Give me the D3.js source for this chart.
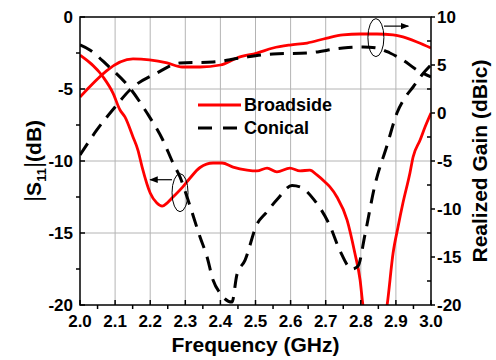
<!DOCTYPE html>
<html>
<head>
<meta charset="utf-8">
<script src="https://cdn.jsdelivr.net/npm/d3@7"></script>
<style>
  body { margin: 0; background: #fff; }
  svg text { font-family: Arial, "Liberation Sans", sans-serif; font-weight: bold; }
</style>
</head>
<body>
<svg id="chart" width="496" height="360"></svg>
<script>

// frequency (GHz) / value pairs
var s11BroadF = [2.0, 2.066, 2.094, 2.114, 2.128, 2.151, 2.165, 2.177, 2.2, 2.219, 2.234, 2.248, 2.265, 2.293, 2.313, 2.342, 2.379, 2.405, 2.436, 2.476, 2.504, 2.533, 2.561, 2.598, 2.627, 2.655, 2.675, 2.698, 2.712, 2.732, 2.761, 2.783, 2.798, 2.806, 2.84, 2.875, 2.892, 2.906, 2.92, 2.94, 2.949, 2.969, 2.983, 3.0];
var s11BroadV = [-2.64, -4.17, -5.28, -6.46, -6.94, -8.33, -9.24, -10.42, -12.22, -12.92, -13.13, -12.92, -12.5, -11.8, -11.2, -10.45, -10.14, -10.14, -10.42, -10.63, -10.69, -10.49, -10.76, -10.49, -10.69, -10.63, -10.97, -11.46, -11.8, -12.5, -14.1, -16.39, -18.26, -20, -23, -20, -16.39, -14.58, -12.92, -10.83, -9.72, -8.54, -7.64, -6.67];

var s11ConF = [2.0, 2.028, 2.077, 2.142, 2.191, 2.236, 2.265, 2.285, 2.305, 2.342, 2.362, 2.379, 2.399, 2.433, 2.447, 2.47, 2.504, 2.53, 2.564, 2.604, 2.627, 2.667, 2.712, 2.74, 2.775, 2.792, 2.812, 2.84, 2.875, 2.903, 2.926, 2.949, 2.974, 3.0];
var s11ConV = [-1.94, -2.29, -3.33, -4.93, -6.67, -8.54, -10.14, -11.11, -12.5, -15.28, -16.67, -18.26, -19.17, -19.8, -17.9, -16.9, -14.4, -13.6, -12.6, -11.7, -11.8, -12.7, -14.5, -16.2, -17.5, -17.3, -15.1, -11.7, -8.9, -6.67, -5.6, -4.86, -4.03, -3.33];

var gainBroadF = [2.0, 2.151, 2.248, 2.291, 2.342, 2.4, 2.447, 2.504, 2.55, 2.598, 2.647, 2.704, 2.749, 2.798, 2.846, 2.892, 2.92, 2.96, 3.0];
var gainBroadV = [1.67, 5.63, 5.21, 4.79, 4.79, 5.0, 5.73, 6.25, 6.77, 7.08, 7.29, 7.81, 8.13, 8.23, 8.23, 8.13, 7.92, 7.4, 6.77];

var gainConF = [2.0, 2.048, 2.1, 2.142, 2.219, 2.285, 2.379, 2.456, 2.55, 2.647, 2.749, 2.806, 2.846, 2.883, 2.92, 2.96, 3.0];
var gainConV = [-4.38, -1.77, 0.63, 2.4, 4.17, 5.21, 5.31, 5.73, 6.15, 6.25, 6.77, 6.88, 6.77, 6.25, 5.52, 4.48, 3.75];

var xTicks = [2.0, 2.1, 2.2, 2.3, 2.4, 2.5, 2.6, 2.7, 2.8, 2.9, 3.0];
var leftTicks = [0, -5, -10, -15, -20];
var rightTicks = [10, 5, 0, -5, -10, -15, -20];
var legendNames = ["Broadside", "Conical"];

var svg = d3.select("#chart"),
    margin = {top: 17, right: 65, bottom: 55, left: 80},
    width = 496 - margin.left - margin.right,
    height = 360 - margin.top - margin.bottom,
    g = svg.append("g").attr("transform", "translate(" + margin.left + "," + margin.top + ")");

var x = d3.scaleLinear().domain([2.0, 3.0]).range([0, width]);
var yL = d3.scaleLinear().domain([-20, 0]).range([height, 0]);
var yR = d3.scaleLinear().domain([-20, 10]).range([height, 0]);

function pairs(f, v) { return f.map(function(d, i) { return [d, v[i]]; }); }

// grid
g.append("g").selectAll("line").data(xTicks.slice(1, -1)).enter().append("line")
    .attr("x1", function(d) { return x(d); }).attr("x2", function(d) { return x(d); })
    .attr("y1", 0).attr("y2", height)
    .attr("stroke", "#b4b4b4").attr("stroke-width", 1);
g.append("g").selectAll("line").data(leftTicks.slice(1, -1)).enter().append("line")
    .attr("y1", function(d) { return yL(d); }).attr("y2", function(d) { return yL(d); })
    .attr("x1", 0).attr("x2", width)
    .attr("stroke", "#b4b4b4").attr("stroke-width", 1);

svg.append("clipPath").attr("id", "clip")
  .append("rect").attr("width", width).attr("height", height);

var lineL = d3.line().curve(d3.curveMonotoneX)
    .x(function(d) { return x(d[0]); }).y(function(d) { return yL(d[1]); });
var lineR = d3.line().curve(d3.curveMonotoneX)
    .x(function(d) { return x(d[0]); }).y(function(d) { return yR(d[1]); });

var plot = g.append("g").attr("clip-path", "url(#clip)");

function curve(data, gen, color, dash) {
  plot.append("path")
      .datum(data)
      .attr("fill", "none")
      .attr("stroke", color)
      .attr("stroke-width", dash ? 3 : 2.8)
      .attr("stroke-dasharray", dash ? "14,9" : null)
      .attr("stroke-linejoin", "round")
      .attr("d", gen);
}

curve(pairs(gainBroadF, gainBroadV), lineR, "#ff0000", false);
curve(pairs(s11BroadF, s11BroadV), lineL, "#ff0000", false);
curve(pairs(gainConF, gainConV), lineR, "#000", true);
curve(pairs(s11ConF, s11ConV), lineL, "#000", true);

// ellipses and arrows
svg.append("defs").append("marker")
    .attr("id", "arr").attr("viewBox", "0 0 10 10")
    .attr("refX", 9).attr("refY", 5)
    .attr("markerWidth", 7).attr("markerHeight", 7)
    .attr("orient", "auto-start-reverse")
  .append("path").attr("d", "M0,1 L10,5 L0,9 Z").attr("fill", "#000");

g.append("ellipse").attr("cx", x(2.285)).attr("cy", yL(-12.2)).attr("rx", 8).attr("ry", 19)
    .attr("fill", "none").attr("stroke", "#000").attr("stroke-width", 1);
g.append("line").attr("x1", x(2.262)).attr("x2", x(2.2)).attr("y1", yL(-11.3)).attr("y2", yL(-11.3))
    .attr("stroke", "#000").attr("stroke-width", 1.2).attr("marker-end", "url(#arr)");

g.append("ellipse").attr("cx", x(2.843)).attr("cy", yR(7.85)).attr("rx", 8).attr("ry", 19)
    .attr("fill", "none").attr("stroke", "#000").attr("stroke-width", 1);
g.append("line").attr("x1", x(2.866)).attr("x2", x(2.935)).attr("y1", yR(9.05)).attr("y2", yR(9.05))
    .attr("stroke", "#000").attr("stroke-width", 1.2).attr("marker-end", "url(#arr)");

// frame
g.append("rect").attr("width", width).attr("height", height)
    .attr("fill", "none").attr("stroke", "#000").attr("stroke-width", 1.5);

// bottom axis: major ticks inward, minor outward
var minorX = d3.range(2.05, 3.0, 0.1);
g.append("g").selectAll("line").data(xTicks).enter().append("line")
    .attr("x1", function(d) { return x(d); }).attr("x2", function(d) { return x(d); })
    .attr("y1", height).attr("y2", height - 5).attr("stroke", "#000").attr("stroke-width", 1.5);
g.append("g").selectAll("line").data(minorX).enter().append("line")
    .attr("x1", function(d) { return x(d); }).attr("x2", function(d) { return x(d); })
    .attr("y1", height).attr("y2", height + 4).attr("stroke", "#000").attr("stroke-width", 1.5);
g.append("g").selectAll("text").data(xTicks).enter().append("text")
    .attr("x", function(d) { return x(d); }).attr("y", height + 22)
    .attr("text-anchor", "middle").attr("font-size", 17)
    .text(function(d) { return d3.format(".1f")(d); });

// left axis
var minorL = d3.range(-17.5, 0, 5);
g.append("g").selectAll("line").data(minorL).enter().append("line")
    .attr("y1", function(d) { return yL(d); }).attr("y2", function(d) { return yL(d); })
    .attr("x1", 0).attr("x2", -4).attr("stroke", "#000").attr("stroke-width", 1.5);
g.append("g").selectAll("line").data(leftTicks).enter().append("line")
    .attr("y1", function(d) { return yL(d); }).attr("y2", function(d) { return yL(d); })
    .attr("x1", 0).attr("x2", 5).attr("stroke", "#000").attr("stroke-width", 1.5);
g.append("g").selectAll("text").data(leftTicks).enter().append("text")
    .attr("x", -7).attr("y", function(d) { return yL(d) + 6; })
    .attr("text-anchor", "end").attr("font-size", 17)
    .text(function(d) { return d; });

// right axis
var minorR = d3.range(-17.5, 10, 5);
g.append("g").selectAll("line").data(minorR).enter().append("line")
    .attr("y1", function(d) { return yR(d); }).attr("y2", function(d) { return yR(d); })
    .attr("x1", width).attr("x2", width - 4).attr("stroke", "#000").attr("stroke-width", 1.5);
g.append("g").selectAll("line").data(rightTicks).enter().append("line")
    .attr("y1", function(d) { return yR(d); }).attr("y2", function(d) { return yR(d); })
    .attr("x1", width).attr("x2", width + 4).attr("stroke", "#000").attr("stroke-width", 1.5);
g.append("g").selectAll("text").data(rightTicks).enter().append("text")
    .attr("x", width + 6).attr("y", function(d) { return yR(d) + 6; })
    .attr("text-anchor", "start").attr("font-size", 17)
    .text(function(d) { return d; });

// axis titles
svg.append("text").attr("x", margin.left + width / 2).attr("y", 352)
    .attr("text-anchor", "middle").attr("font-size", 21).text("Frequency (GHz)");

var lt = svg.append("text")
    .attr("transform", "translate(41," + (margin.top + height / 2) + ") rotate(-90)")
    .attr("text-anchor", "middle").attr("font-size", 21);
lt.append("tspan").attr("font-weight", "normal").attr("font-size", 24).text("|");
lt.append("tspan").text("S");
lt.append("tspan").attr("font-size", 13).attr("dy", 5).text("11");
lt.append("tspan").attr("dy", -5).attr("font-weight", "normal").attr("font-size", 24).text("|");
lt.append("tspan").text("(dB)");

svg.append("text")
    .attr("transform", "translate(487," + (margin.top + height / 2) + ") rotate(-90)")
    .attr("text-anchor", "middle").attr("font-size", 21).text("Realized Gain (dBic)");

// legend
var lg = g.append("g").attr("transform", "translate(118,88)");
lg.selectAll("line").data(legendNames).enter().append("line")
    .attr("x1", 0).attr("x2", 43)
    .attr("y1", function(d, i) { return i * 23; }).attr("y2", function(d, i) { return i * 23; })
    .attr("stroke", function(d, i) { return i ? "#000" : "#ff0000"; })
    .attr("stroke-width", 3)
    .attr("stroke-dasharray", function(d, i) { return i ? "14,11" : null; });
lg.selectAll("text").data(legendNames).enter().append("text")
    .attr("x", 46).attr("y", function(d, i) { return i * 23 + 6; })
    .attr("font-size", 18).text(function(d) { return d; });

</script>
</body>
</html>
